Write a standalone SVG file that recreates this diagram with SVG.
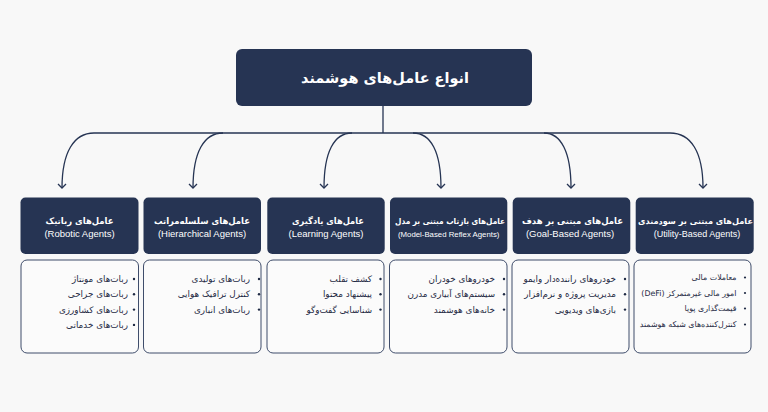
<svg xmlns="http://www.w3.org/2000/svg" width="768" height="412" viewBox="0 0 768 412">
<defs>
<style>
.bg{fill:#f8f8f8}
.hdr{fill:#263453}
.body{fill:#fbfbfb;stroke:#3f4d6b;stroke-width:1}
.conn{fill:none;stroke:#263453;stroke-width:1.3}
.fa{font-family:"DejaVu Sans",sans-serif;fill:#ffffff;font-weight:bold;font-size:8.8px}
.en{font-family:"Liberation Sans",Arial,sans-serif;fill:#ffffff;font-size:9.5px}
.li{font-family:"DejaVu Sans",sans-serif;fill:#1f2a44;font-size:8.8px}
.sm{font-size:7.9px}
.bu{fill:#1f2a44}
.title{font-family:"DejaVu Sans",sans-serif;fill:#ffffff;font-weight:bold;font-size:14.5px}
</style>
<marker id="ah" markerUnits="userSpaceOnUse" markerWidth="12" markerHeight="12" viewBox="-6 -6 12 12" refX="0" refY="0" orient="auto">
<path d="M-4,-4 L0,0 L-4,4" fill="none" stroke="#263453" stroke-width="1.3"/>
</marker>
</defs>
<rect class="bg" x="0" y="0" width="768" height="412"/>

<g id="title">
<rect class="hdr" x="236" y="49" width="296" height="57" rx="6"/>
<text class="title" x="385" y="83" text-anchor="middle">انواع عامل&#x200C;های هوشمند</text>
</g>

<g id="connectors">
<path class="conn" d="M383,106 V133"/>
<path class="conn" d="M94,133 H670"/>
<path class="conn" marker-end="url(#ah)" d="M94,133 C74,133 62,152 62,188"/>
<path class="conn" marker-end="url(#ah)" d="M223,133 C204,133 193,152 193,188"/>
<path class="conn" marker-end="url(#ah)" d="M352,133 C334,133 324,152 324,188"/>
<path class="conn" marker-end="url(#ah)" d="M413,133 C431,133 441,152 441,188"/>
<path class="conn" marker-end="url(#ah)" d="M544,133 C561,133 571,152 571,188"/>
<path class="conn" marker-end="url(#ah)" d="M670,133 C691,133 703,152 703,188"/>
</g>

<g id="robotic">
<rect class="hdr" x="20.5" y="197.5" width="118" height="56.5" rx="5"/>
<text class="fa" x="79.5" y="223.5" text-anchor="middle" textLength="68" lengthAdjust="spacingAndGlyphs">عامل&#x200C;های رباتیک</text>
<text class="en" x="79.5" y="236.5" text-anchor="middle">(Robotic Agents)</text>
<rect class="body" x="21" y="260" width="117.5" height="93" rx="6"/>
<text class="li" x="128" y="282" text-anchor="end">ربات&#x200C;های مونتاژ</text>
<text class="li" x="128" y="297.3" text-anchor="end">ربات&#x200C;های جراحی</text>
<text class="li" x="128" y="312.6" text-anchor="end">ربات&#x200C;های کشاورزی</text>
<text class="li" x="128" y="327.9" text-anchor="end">ربات&#x200C;های خدماتی</text>
<circle class="bu" cx="134" cy="279" r="1.2"/>
<circle class="bu" cx="134" cy="294.3" r="1.2"/>
<circle class="bu" cx="134" cy="309.6" r="1.2"/>
<circle class="bu" cx="134" cy="324.9" r="1.2"/>
</g>

<g id="hierarchical">
<rect class="hdr" x="143.5" y="197.5" width="117.5" height="56.5" rx="5"/>
<text class="fa" x="202" y="223.5" text-anchor="middle" textLength="96" lengthAdjust="spacingAndGlyphs">عامل&#x200C;های سلسله&#x200C;مراتب</text>
<text class="en" x="202" y="236.5" text-anchor="middle">(Hierarchical Agents)</text>
<rect class="body" x="143.5" y="260" width="117.5" height="93" rx="6"/>
<text class="li" x="250" y="282" text-anchor="end">ربات&#x200C;های تولیدی</text>
<text class="li" x="250" y="297.3" text-anchor="end">کنترل ترافیک هوایی</text>
<text class="li" x="250" y="312.6" text-anchor="end">ربات&#x200C;های انباری</text>
<circle class="bu" cx="259" cy="279" r="1.2"/>
<circle class="bu" cx="259" cy="294.3" r="1.2"/>
<circle class="bu" cx="259" cy="309.6" r="1.2"/>
</g>

<g id="learning">
<rect class="hdr" x="267.3" y="197.5" width="117.4" height="56.5" rx="5"/>
<text class="fa" x="328" y="223.5" text-anchor="middle" textLength="72" lengthAdjust="spacingAndGlyphs">عامل&#x200C;های یادگیری</text>
<text class="en" x="326" y="236.5" text-anchor="middle">(Learning Agents)</text>
<rect class="body" x="267" y="260" width="117" height="93" rx="6"/>
<text class="li" x="372" y="282" text-anchor="end">کشف تقلب</text>
<text class="li" x="372" y="297.3" text-anchor="end">پیشنهاد محتوا</text>
<text class="li" x="372" y="312.6" text-anchor="end">شناسایی گفت&#x200C;وگو</text>
<circle class="bu" cx="380.5" cy="279" r="1.2"/>
<circle class="bu" cx="380.5" cy="294.3" r="1.2"/>
<circle class="bu" cx="380.5" cy="309.6" r="1.2"/>
</g>

<g id="model-based">
<rect class="hdr" x="390" y="197.5" width="117.3" height="56.5" rx="5"/>
<text class="fa" x="450" y="223.5" text-anchor="middle" textLength="110" lengthAdjust="spacingAndGlyphs" style="font-size:8.4px">عامل&#x200C;های بازتاب مبتنی بر مدل</text>
<text class="en" x="448.7" y="236.5" text-anchor="middle" style="font-size:7.8px">(Model-Based Reflex Agents)</text>
<rect class="body" x="389.5" y="260" width="117.5" height="93" rx="6"/>
<text class="li" x="495" y="282" text-anchor="end">خودروهای خودران</text>
<text class="li" x="495" y="297.3" text-anchor="end">سیستم&#x200C;های آبیاری مدرن</text>
<text class="li" x="495" y="312.6" text-anchor="end">خانه&#x200C;های هوشمند</text>
<circle class="bu" cx="504" cy="279" r="1.2"/>
<circle class="bu" cx="504" cy="294.3" r="1.2"/>
<circle class="bu" cx="504" cy="309.6" r="1.2"/>
</g>

<g id="goal-based">
<rect class="hdr" x="512.7" y="197.5" width="117.6" height="56.5" rx="5"/>
<text class="fa" x="572.5" y="223.5" text-anchor="middle" textLength="101" lengthAdjust="spacingAndGlyphs">عامل&#x200C;های مبتنی بر هدف</text>
<text class="en" x="570" y="236.5" text-anchor="middle">(Goal-Based Agents)</text>
<rect class="body" x="512" y="260" width="117" height="93" rx="6"/>
<text class="li" x="616" y="282" text-anchor="end">خودروهای راننده&#x200C;دار وایمو</text>
<text class="li" x="616" y="297.3" text-anchor="end">مدیریت پروژه و نرم&#x200C;افزار</text>
<text class="li" x="616" y="312.6" text-anchor="end">بازی&#x200C;های ویدیویی</text>
<circle class="bu" cx="625" cy="279" r="1.2"/>
<circle class="bu" cx="625" cy="294.3" r="1.2"/>
<circle class="bu" cx="625" cy="309.6" r="1.2"/>
</g>

<g id="utility-based">
<rect class="hdr" x="635.7" y="197.5" width="118" height="56.5" rx="5"/>
<text class="fa" x="695.5" y="223.5" text-anchor="middle" textLength="115" lengthAdjust="spacingAndGlyphs" style="font-size:8.4px">عامل&#x200C;های مبتنی بر سودمندی</text>
<text class="en" x="697" y="236.5" text-anchor="middle" style="font-size:9px">(Utility-Based Agents)</text>
<rect class="body" x="634" y="260" width="117" height="93" rx="6"/>
<text class="li sm" x="736.5" y="280" text-anchor="end">معاملات مالی</text>
<text class="li sm" x="736.5" y="295.5" text-anchor="end">&#x202B;امور مالی غیرمتمرکز (DeFi)&#x202C;</text>
<text class="li sm" x="736.5" y="311" text-anchor="end">قیمت&#x200C;گذاری پویا</text>
<text class="li sm" x="736.5" y="327" text-anchor="end">کنترل&#x200C;کننده&#x200C;های شبکه هوشمند</text>
<circle class="bu" cx="745" cy="277.5" r="1.1"/>
<circle class="bu" cx="745" cy="293" r="1.1"/>
<circle class="bu" cx="745" cy="308.5" r="1.1"/>
<circle class="bu" cx="745" cy="324.5" r="1.1"/>
</g>
</svg>
